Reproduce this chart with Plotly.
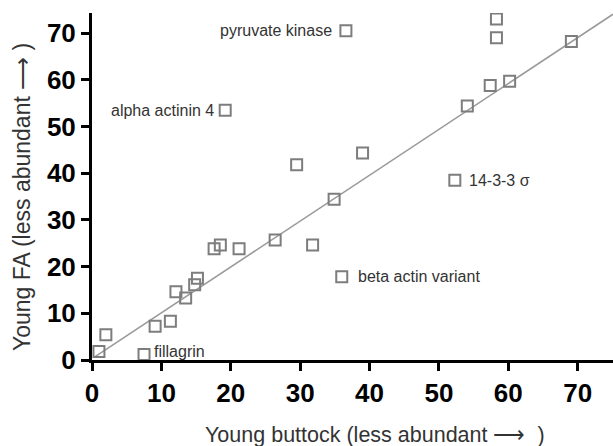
import plotly.graph_objects as go

# Data (Young buttock vs Young FA)
x_vals = [1.0, 2.0, 7.5, 9.1, 11.3, 12.1, 13.5, 14.8, 15.2, 17.6, 18.5, 21.2,
          26.4, 31.8, 29.5, 36.0, 34.9, 39.0, 52.3, 54.1, 57.4, 60.2, 58.3,
          58.3, 69.1, 36.6, 19.2]
y_vals = [1.8, 5.4, 1.2, 7.2, 8.3, 14.6, 13.3, 16.1, 17.5, 23.8, 24.6, 23.8,
          25.7, 24.6, 41.8, 17.8, 34.4, 44.3, 38.5, 54.4, 58.8, 59.7, 69.0,
          73.0, 68.2, 70.5, 53.5]

# labelled proteins
label_names = ["pyruvate kinase", "alpha actinin 4", "14-3-3 σ", "beta actin variant", "fillagrin"]
label_x = [36.6, 19.2, 52.3, 36.0, 7.5]
label_y = [70.5, 53.5, 38.5, 17.8, 1.2]
label_side = ["left", "left", "right", "right", "right"]
label_gap = [12, 9, 12, 14, 8]

# regression line
slope = 0.982
intercept = 0.28
line_x = [0.4, 75.1]
line_y = [slope * v + intercept for v in line_x]

x_ticks = [0, 10, 20, 30, 40, 50, 60, 70]
y_ticks = [0, 10, 20, 30, 40, 50, 60, 70]

x_title = "Young buttock (less abundant ⟶  )"
y_title = "Young FA (less abundant ⟶ )"

TICK_FONT = "Liberation Sans, Arial"
TEXT_FONT = "Liberation Sans, Arial"

fig = go.Figure()
fig.add_trace(go.Scatter(x=line_x, y=line_y, mode="lines",
                         line=dict(color="#9a9a9a", width=1.6),
                         hoverinfo="skip", showlegend=False))
fig.add_trace(go.Scatter(x=x_vals, y=y_vals, mode="markers",
                         marker=dict(symbol="square-open", size=11,
                                     color="#7d7d7d", line=dict(width=2, color="#7d7d7d")),
                         showlegend=False))

for name, lx, ly, side, gap in zip(label_names, label_x, label_y, label_side, label_gap):
    fig.add_annotation(x=lx, y=ly, text=name, showarrow=False,
                       xanchor="right" if side == "left" else "left",
                       xshift=-gap if side == "left" else gap,
                       yanchor="middle",
                       yshift=3 if name == "fillagrin" else 0,
                       font=dict(family=TEXT_FONT, size=16, color="#333333"))

# axis titles as annotations for exact placement
fig.add_annotation(xref="paper", yref="paper", x=0.543, y=-0.216,
                   text=x_title, showarrow=False, xanchor="center", yanchor="middle",
                   font=dict(family=TEXT_FONT, size=21.5, color="#333333"))
fig.add_annotation(xref="paper", yref="paper", x=-0.134, y=0.47,
                   text=y_title, showarrow=False, textangle=-90,
                   xanchor="center", yanchor="middle",
                   font=dict(family=TEXT_FONT, size=23, color="#333333"))

fig.update_layout(
    width=613, height=446,
    margin=dict(l=92, r=0, t=13, b=86),
    plot_bgcolor="white", paper_bgcolor="white",
    font=dict(family=TEXT_FONT, color="#333333"),
)
fig.update_xaxes(
    range=[0, 75.1], tickvals=x_ticks, showgrid=False, zeroline=False,
    showline=True, linecolor="black", linewidth=3,
    ticks="outside", ticklen=8, tickwidth=3, tickcolor="black",
    tickfont=dict(family=TICK_FONT, size=26, color="black", weight="bold"),
)
fig.update_yaxes(
    range=[0, 74.3], tickvals=y_ticks, showgrid=False, zeroline=False,
    showline=True, linecolor="black", linewidth=3,
    ticks="outside", ticklen=8, tickwidth=3, tickcolor="black",
    tickfont=dict(family=TICK_FONT, size=26, color="black", weight="bold"),
)

fig.write_html("out.html")
